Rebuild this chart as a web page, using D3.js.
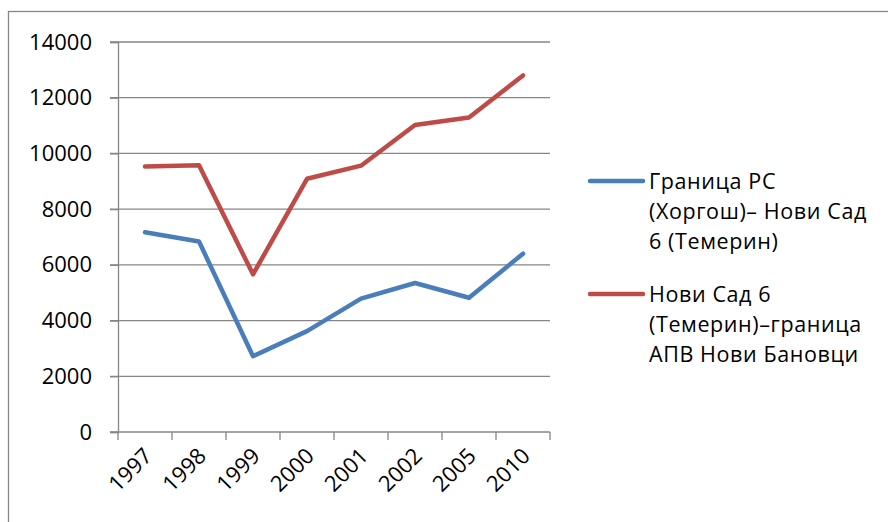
<!DOCTYPE html>
<html>
<head>
<meta charset="utf-8">
<script src="https://cdn.jsdelivr.net/npm/d3@7/dist/d3.min.js"></script>
<style>
  html, body { margin: 0; padding: 0; background: #fff; }
  svg { display: block; font-family: "Open Sans", "Noto Sans", sans-serif; }
</style>
</head>
<body>
<svg id="chart" width="888" height="522"></svg>
<script>
// Traffic counts by year for two road sections
const years = ["1997", "1998", "1999", "2000", "2001", "2002", "2005", "2010"];
const seriesNames = [
  ["Граница РС", "(Хоргош)– Нови Сад", "6 (Темерин)"],
  ["Нови Сад 6", "(Темерин)–граница", "АПВ Нови Бановци"]
];
const horgosNoviSad = [7170, 6840, 2720, 3620, 4790, 5350, 4820, 6400];
const noviSadBanovci = [9530, 9580, 5660, 9090, 9560, 11020, 11290, 12800];
const yTicks = [0, 2000, 4000, 6000, 8000, 10000, 12000, 14000];
const seriesColors = ["#4A7EBB", "#BE4B48"];

const svg = d3.select("#chart");
const margin = { left: 118, right: 338, top: 42, bottom: 90 };
const W = 888, H = 522;

// outer chart frame (only left/top edges fall inside the view)
svg.append("rect")
  .attr("x", 8.5).attr("y", 11.5)
  .attr("width", 1000).attr("height", 1000)
  .attr("fill", "none").attr("stroke", "#868686").attr("stroke-width", 1.3);

const x = d3.scaleBand().domain(years)
  .range([margin.left, W - margin.right]).paddingInner(0).paddingOuter(0);
const y = d3.scaleLinear().domain([0, 14000]).range([H - margin.bottom, margin.top]);

const gridColor = "#868686";

// horizontal gridlines
svg.append("g").selectAll("line").data(yTicks.filter(d => d > 0)).join("line")
  .attr("x1", margin.left - 8).attr("x2", W - margin.right)
  .attr("y1", d => y(d)).attr("y2", d => y(d))
  .attr("stroke", gridColor).attr("stroke-width", 1.3);

// y axis
const yAxis = svg.append("g")
  .attr("transform", `translate(${margin.left},0)`)
  .call(d3.axisLeft(y).tickValues(yTicks).tickSize(8).tickPadding(18).tickFormat(d3.format("d")));
yAxis.select(".domain").attr("stroke", gridColor).attr("stroke-width", 1.3);
yAxis.selectAll(".tick line").attr("stroke", gridColor).attr("stroke-width", 1.3);
yAxis.selectAll("text").attr("font-size", 22).attr("fill", "#000")
  .attr("font-family", "'Open Sans', sans-serif");

// x axis with ticks on category boundaries
const xAxisG = svg.append("g").attr("transform", `translate(0,${y(0)})`);
xAxisG.append("line")
  .attr("x1", margin.left - 8).attr("x2", W - margin.right)
  .attr("stroke", gridColor).attr("stroke-width", 1.3);
const bounds = years.map(d => x(d)).concat([x(years[years.length - 1]) + x.bandwidth()]);
xAxisG.selectAll("line.tk").data(bounds).join("line").attr("class", "tk")
  .attr("x1", d => d).attr("x2", d => d).attr("y1", 0).attr("y2", 8)
  .attr("stroke", gridColor).attr("stroke-width", 1.3);
xAxisG.selectAll("text").data(years).join("text")
  .attr("transform", d => `translate(${x(d) + x.bandwidth() / 2 + 3},${20}) rotate(-45)`)
  .attr("text-anchor", "end").attr("dy", "0.35em")
  .attr("font-size", 22).attr("fill", "#000")
  .text(d => d);

// series lines
const line = d3.line()
  .x((d, i) => x(years[i]) + x.bandwidth() / 2)
  .y(d => y(d));
[horgosNoviSad, noviSadBanovci].forEach((vals, k) => {
  svg.append("path").datum(vals)
    .attr("d", line)
    .attr("fill", "none")
    .attr("stroke", seriesColors[k])
    .attr("stroke-width", 4.5)
    .attr("stroke-linejoin", "round")
    .attr("stroke-linecap", "round");
});

// legend
const legendTop = [189, 302];
seriesNames.forEach((lines, k) => {
  const g = svg.append("g");
  g.append("line")
    .attr("x1", 590).attr("x2", 643)
    .attr("y1", legendTop[k] - 8).attr("y2", legendTop[k] - 8)
    .attr("stroke", seriesColors[k]).attr("stroke-width", 4.5)
    .attr("stroke-linecap", "round");
  lines.forEach((t, i) => {
    g.append("text")
      .attr("x", 649).attr("y", legendTop[k] + i * 30)
      .attr("font-size", 21.5).attr("letter-spacing", 0.6).attr("fill", "#000")
      .text(t);
  });
});
</script>
</body>
</html>
